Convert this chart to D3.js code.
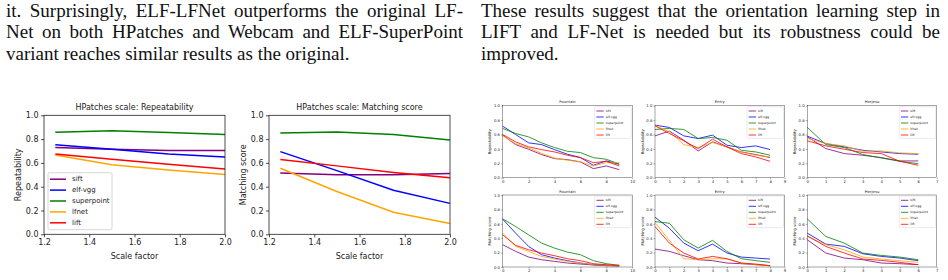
<!DOCTYPE html>
<html>
<head>
<meta charset="utf-8">
<script src="https://cdn.jsdelivr.net/npm/d3@7"></script>
<style>
  body { margin: 0; background: #fff; }
  svg { display: block; }
</style>
</head>
<body>
<svg width="948" height="280"></svg>
<script>

// ---- text of the page ----
const leftLines = [
  'it. Surprisingly, ELF-LFNet outperforms the original LF-',
  'Net on both HPatches and Webcam and ELF-SuperPoint',
  'variant reaches similar results as the original.'
];
const rightLines = [
  'These results suggest that the orientation learning step in',
  'LIFT and LF-Net is needed but its robustness could be',
  'improved.'
];

// ---- series ----
const methods = ['sift', 'elf-vgg', 'superpoint', 'lfnet', 'lift'];
const methodColors = ['purple', 'blue', 'green', 'orange', 'red'];

// HPatches scale
const scaleFactors = [1.25, 1.5, 1.75, 2.0];
const scaleRep = [
  [0.73, 0.715, 0.705, 0.705],
  [0.753, 0.714, 0.675, 0.65],
  [0.857, 0.87, 0.855, 0.838],
  [0.666, 0.585, 0.54, 0.503],
  [0.675, 0.63, 0.588, 0.549]
];
const scaleMs = [
  [0.515, 0.5, 0.5, 0.51],
  [0.695, 0.535, 0.37, 0.26],
  [0.852, 0.86, 0.838, 0.793],
  [0.555, 0.36, 0.185, 0.09],
  [0.628, 0.575, 0.52, 0.475]
];

// Webcam-like sequences (x = image index)
const fountainRep = [
  [0.591, 0.46, 0.395, 0.321, 0.265, 0.251, 0.219, 0.126, 0.163, 0.112],
  [0.716, 0.6, 0.484, 0.46, 0.39, 0.326, 0.28, 0.172, 0.233, 0.186],
  [0.684, 0.614, 0.567, 0.484, 0.419, 0.367, 0.349, 0.279, 0.256, 0.19],
  [0.581, 0.474, 0.414, 0.34, 0.274, 0.242, 0.223, 0.163, 0.209, 0.209],
  [0.6, 0.498, 0.428, 0.39, 0.358, 0.312, 0.279, 0.209, 0.228, 0.163]
];
const entryRep = [
  [0.581, 0.647, 0.521, 0.372, 0.498, 0.428, 0.358, 0.321, 0.28],
  [0.73, 0.698, 0.581, 0.544, 0.591, 0.451, 0.419, 0.442, 0.391],
  [0.67, 0.684, 0.67, 0.544, 0.558, 0.521, 0.381, 0.358, 0.312],
  [0.73, 0.637, 0.46, 0.419, 0.488, 0.428, 0.358, 0.312, 0.288],
  [0.721, 0.614, 0.512, 0.405, 0.535, 0.428, 0.335, 0.288, 0.228]
];
const herjesuRep = [
  [0.567, 0.405, 0.335, 0.312, 0.279, 0.233, 0.233],
  [0.577, 0.474, 0.428, 0.381, 0.358, 0.335, 0.326],
  [0.698, 0.46, 0.419, 0.321, 0.274, 0.228, 0.195],
  [0.544, 0.474, 0.442, 0.367, 0.372, 0.344, 0.335],
  [0.512, 0.442, 0.395, 0.349, 0.335, 0.228, 0.172]
];
const fountainMs = [
  [0.309, 0.217, 0.138, 0.101, 0.078, 0.055, 0.041, 0.028, 0.018, 0.014],
  [0.664, 0.47, 0.286, 0.171, 0.124, 0.088, 0.055, 0.032, 0.023, 0.018],
  [0.668, 0.562, 0.447, 0.332, 0.263, 0.207, 0.171, 0.088, 0.046, 0.023],
  [0.47, 0.286, 0.217, 0.147, 0.111, 0.078, 0.055, 0.032, 0.023, 0.018],
  [0.447, 0.3, 0.24, 0.194, 0.157, 0.115, 0.088, 0.046, 0.032, 0.023]
];
const entryMs = [
  [0.249, 0.217, 0.157, 0.101, 0.088, 0.055, 0.046, 0.032, 0.018],
  [0.691, 0.539, 0.332, 0.226, 0.318, 0.194, 0.138, 0.124, 0.111],
  [0.631, 0.608, 0.378, 0.263, 0.369, 0.217, 0.115, 0.088, 0.065],
  [0.618, 0.369, 0.115, 0.101, 0.115, 0.111, 0.055, 0.032, 0.018],
  [0.562, 0.332, 0.194, 0.111, 0.147, 0.115, 0.055, 0.041, 0.018]
];
const herjesuMs = [
  [0.378, 0.194, 0.124, 0.101, 0.055, 0.046, 0.032],
  [0.47, 0.318, 0.286, 0.184, 0.147, 0.124, 0.088],
  [0.668, 0.424, 0.332, 0.194, 0.161, 0.138, 0.101],
  [0.424, 0.309, 0.24, 0.138, 0.111, 0.088, 0.065],
  [0.433, 0.286, 0.194, 0.111, 0.092, 0.065, 0.032]
];

const yTicks = [0, 0.2, 0.4, 0.6, 0.8, 1.0];
const scaleTicks = [1.2, 1.4, 1.6, 1.8, 2.0];

let svg = d3.select('svg');

// ---- justified paragraph text ----
function paragraph(lines, x0, width, y0, lh) {
  lines.forEach((t, i) => {
    let txt = svg.append('text')
      .attr('x', x0)
      .attr('y', y0 + i * lh)
      .attr('font-family', '"Liberation Serif", "Times New Roman", serif')
      .attr('font-size', 19)
      .attr('fill', '#111')
      .text(t);
    if (i < lines.length - 1) {
      let natural = txt.node().getComputedTextLength();
      let gaps = t.split(' ').length - 1;
      txt.attr('word-spacing', (width - natural) / gaps);
    }
  });
}

paragraph(leftLines, 6, 457, 16.5, 21.5);
paragraph(rightLines, 481, 459, 16.5, 21.5);

// ---- one matplotlib-style panel ----
function panel(o) {
  let g = svg.append('g').attr('transform', `translate(${o.x},${o.y})`);
  let x = d3.scaleLinear().domain(o.xDomain).range([0, o.w]);
  let y = d3.scaleLinear().domain([0, 1]).range([o.h, 0]);
  let font = 'DejaVu Sans, sans-serif';

  let xa = g.append('g')
    .attr('transform', `translate(0,${o.h})`)
    .call(d3.axisBottom(x).tickValues(o.xTicks).tickSize(o.tick).tickPadding(o.pad)
      .tickFormat(o.xFmt));
  let ya = g.append('g')
    .call(d3.axisLeft(y).tickValues(yTicks).tickSize(o.tick).tickPadding(o.pad)
      .tickFormat(d3.format('.1f')));

  [xa, ya].forEach((a) => {
    a.select('.domain').remove();
    a.selectAll('line').attr('stroke', '#222').attr('stroke-width', o.frameW);
    a.selectAll('text').attr('font-family', font).attr('font-size', o.fs).attr('fill', '#222');
  });

  let line = d3.line()
    .x((d) => x(d[0]))
    .y((d) => y(d[1]));

  o.series.forEach((vals, i) => {
    g.append('path')
      .datum(vals.map((v, j) => [o.xs[j], v]))
      .attr('fill', 'none')
      .attr('stroke', methodColors[i])
      .attr('stroke-width', o.lw)
      .attr('d', line);
  });

  g.append('rect')
    .attr('width', o.w).attr('height', o.h)
    .attr('fill', 'none').attr('stroke', '#222').attr('stroke-width', o.frameW);

  g.append('text')
    .attr('x', o.w / 2).attr('y', -o.titleGap)
    .attr('text-anchor', 'middle')
    .attr('font-family', font).attr('font-size', o.titleFs).attr('fill', '#222')
    .text(o.title);

  g.append('text')
    .attr('transform', `translate(${-o.ylabGap},${o.h / 2}) rotate(-90)`)
    .attr('text-anchor', 'middle')
    .attr('dominant-baseline', 'central')
    .attr('font-family', font).attr('font-size', o.fs).attr('fill', '#222')
    .text(o.ylabel);

  if (o.xlabel) {
    g.append('text')
      .attr('x', o.w / 2).attr('y', o.h + o.xlabGap)
      .attr('text-anchor', 'middle')
      .attr('font-family', font).attr('font-size', o.fs).attr('fill', '#222')
      .text(o.xlabel);
  }

  if (o.legend) {
    let L = o.legend;
    let lg = g.append('g').attr('transform', `translate(${L.x},${L.y})`);
    lg.append('rect')
      .attr('width', L.w).attr('height', L.h).attr('rx', L.r)
      .attr('fill', 'rgba(255,255,255,0.8)').attr('stroke', '#ccc').attr('stroke-width', L.sw);
    methods.forEach((m, i) => {
      let yy = L.first + i * L.step;
      lg.append('line')
        .attr('x1', L.lx1).attr('x2', L.lx2).attr('y1', yy).attr('y2', yy)
        .attr('stroke', methodColors[i]).attr('stroke-width', o.lw);
      lg.append('text')
        .attr('x', L.tx).attr('y', yy)
        .attr('dominant-baseline', 'central')
        .attr('font-family', font).attr('font-size', L.fs).attr('fill', '#222')
        .text(m);
    });
  }
}

// ---- large HPatches panels ----
let big = {
  y: 115.3, w: 181, h: 119, xDomain: [1.2, 2.0], xTicks: scaleTicks, xs: scaleFactors,
  xFmt: d3.format('.1f'), tick: 3, pad: 2.5, fs: 8, titleFs: 8, titleGap: 5,
  lw: 1.5, frameW: 0.8, ylabGap: 26, xlabGap: 25, xlabel: 'Scale factor'
};

panel(Object.assign({}, big, {
  x: 44, title: 'HPatches scale: Repeatability', ylabel: 'Repeatability', series: scaleRep,
  legend: { x: 4, y: 57.4, w: 64, h: 57, r: 1.5, sw: 0.8, first: 6.5, step: 10.9,
            lx1: 2, lx2: 18, tx: 24, fs: 7 }
}));
panel(Object.assign({}, big, {
  x: 269, title: 'HPatches scale: Matching score', ylabel: 'Matching score', series: scaleMs
}));

// ---- small webcam panels ----
let smallLegend = { x: 92.5, y: 1, w: 36.5, h: 31.6, r: 0.8, sw: 0.4, first: 4.3, step: 6,
                    lx1: 1.7, lx2: 9, tx: 11, fs: 3.3 };
let small = {
  w: 129.5, h: 72, tick: 1.5, pad: 1.2, fs: 3.8, titleFs: 3.8, titleGap: 2.5,
  lw: 0.8, frameW: 0.4, ylabGap: 13, xFmt: d3.format('d')
};
let seqs = [
  { x: 502.7, title: 'Fountain', n: 10, ticks: [0, 2, 4, 6, 8, 10], dom: [0, 10], rep: fountainRep, ms: fountainMs },
  { x: 655, title: 'Entry', n: 9, ticks: d3.range(0, 10), dom: [0, 9], rep: entryRep, ms: entryMs },
  { x: 807.3, title: 'Herjesu', n: 7, ticks: d3.range(0, 8), dom: [0, 7], rep: herjesuRep, ms: herjesuMs }
];

seqs.forEach((s) => {
  let base = Object.assign({}, small, {
    x: s.x, title: s.title, xDomain: s.dom, xTicks: s.ticks, xs: d3.range(s.n),
    legend: Object.assign({}, smallLegend, { x: small.w - 37.5 })
  });
  panel(Object.assign({}, base, { y: 105.7, ylabel: 'Repeatability', series: s.rep }));
  panel(Object.assign({}, base, { y: 195, ylabel: 'Matching score', series: s.ms }));
});

</script>
</body>
</html>
